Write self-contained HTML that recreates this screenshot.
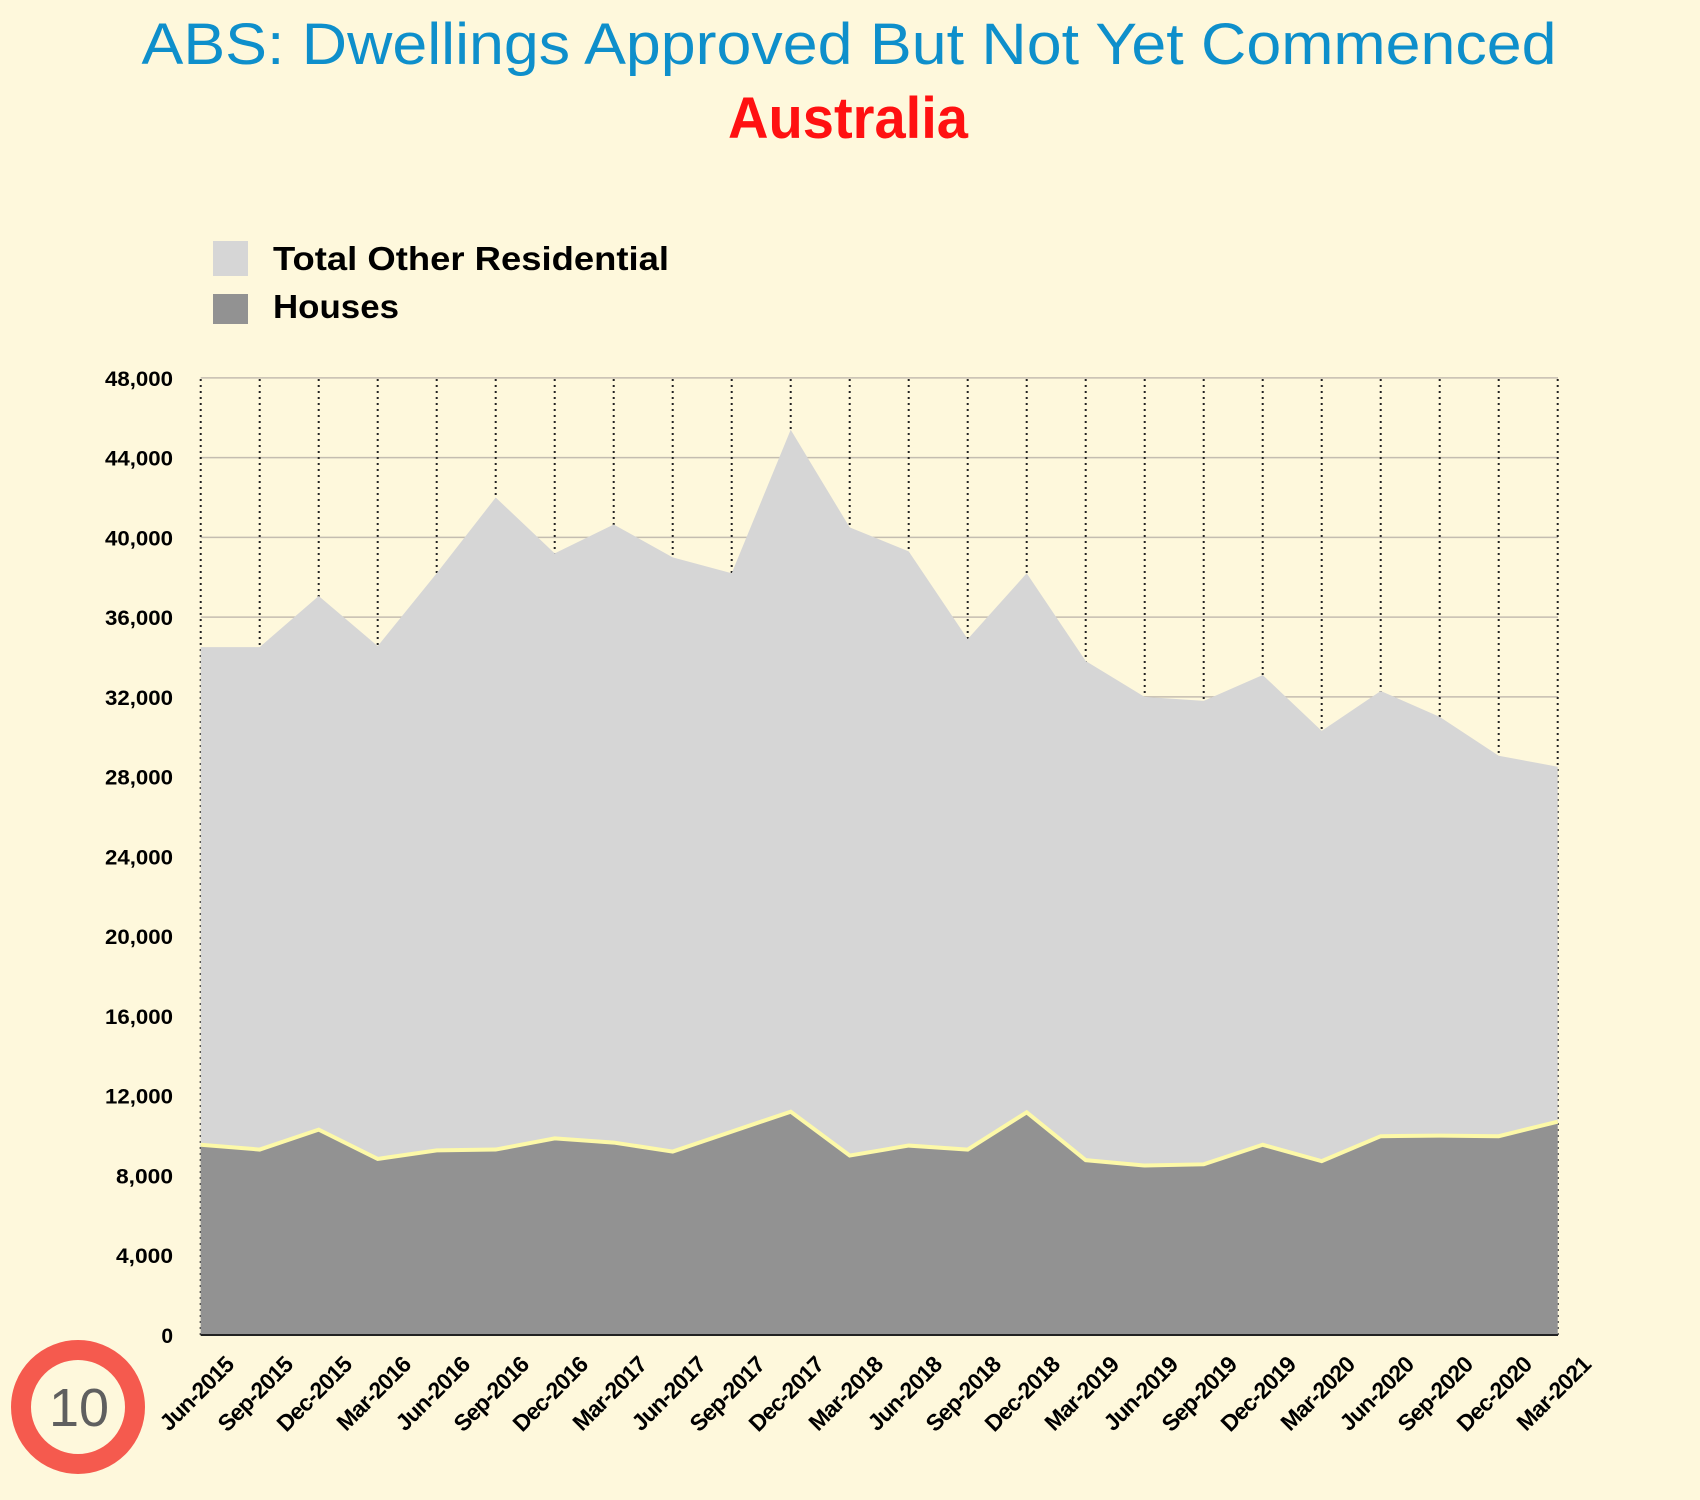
<!DOCTYPE html>
<html><head><meta charset="utf-8"><style>
html,body{margin:0;padding:0;background:#fef8dc;}
#wrap{position:relative;width:1700px;height:1500px;overflow:hidden;}
svg{display:block;position:absolute;left:0;top:0;}
.xl{position:absolute;width:130px;text-align:right;font:bold 23px "Liberation Sans",sans-serif;letter-spacing:-0.8px;color:#000;line-height:24px;transform-origin:100% 0;transform:matrix(0.7071,-0.7071,0.7071,0.7071,0,0);white-space:nowrap;}
</style></head><body>
<div id="wrap">
<svg id="c" width="1700" height="1500" xmlns="http://www.w3.org/2000/svg">
<rect width="1700" height="1500" fill="#fef8dc"/>
<text x="849" y="64" text-anchor="middle" font-family="Liberation Sans, sans-serif" font-size="58" fill="#0e8fcb" textLength="1415" lengthAdjust="spacingAndGlyphs">ABS: Dwellings Approved But Not Yet Commenced</text>
<text x="848" y="138" text-anchor="middle" font-family="Liberation Sans, sans-serif" font-weight="bold" font-size="58" fill="#ff1111" textLength="240" lengthAdjust="spacingAndGlyphs">Australia</text>
<rect x="213" y="241" width="35" height="35" fill="#d6d6d6"/>
<rect x="213" y="294" width="35" height="30" fill="#929292"/>
<text x="273" y="270" font-family="Liberation Sans, sans-serif" font-weight="bold" font-size="33" fill="#000" textLength="396" lengthAdjust="spacingAndGlyphs">Total Other Residential</text>
<text x="273" y="318" font-family="Liberation Sans, sans-serif" font-weight="bold" font-size="33" fill="#000" textLength="126" lengthAdjust="spacingAndGlyphs">Houses</text>
<g id="g"></g>
<circle cx="78" cy="1407" r="57" fill="none" stroke="#f55a4e" stroke-width="20"/>
<text x="79" y="1426" text-anchor="middle" font-family="Liberation Sans, sans-serif" font-size="54" fill="#5f5f5f">10</text>
</svg>
<div class="xl" style="left:90.7px;top:1352px">Jun-2015</div>
<div class="xl" style="left:149.7px;top:1352px">Sep-2015</div>
<div class="xl" style="left:208.7px;top:1352px">Dec-2015</div>
<div class="xl" style="left:267.7px;top:1352px">Mar-2016</div>
<div class="xl" style="left:326.7px;top:1352px">Jun-2016</div>
<div class="xl" style="left:385.7px;top:1352px">Sep-2016</div>
<div class="xl" style="left:444.7px;top:1352px">Dec-2016</div>
<div class="xl" style="left:503.7px;top:1352px">Mar-2017</div>
<div class="xl" style="left:562.7px;top:1352px">Jun-2017</div>
<div class="xl" style="left:621.7px;top:1352px">Sep-2017</div>
<div class="xl" style="left:680.7px;top:1352px">Dec-2017</div>
<div class="xl" style="left:739.7px;top:1352px">Mar-2018</div>
<div class="xl" style="left:798.7px;top:1352px">Jun-2018</div>
<div class="xl" style="left:857.7px;top:1352px">Sep-2018</div>
<div class="xl" style="left:916.7px;top:1352px">Dec-2018</div>
<div class="xl" style="left:975.7px;top:1352px">Mar-2019</div>
<div class="xl" style="left:1034.7px;top:1352px">Jun-2019</div>
<div class="xl" style="left:1093.7px;top:1352px">Sep-2019</div>
<div class="xl" style="left:1152.7px;top:1352px">Dec-2019</div>
<div class="xl" style="left:1211.7px;top:1352px">Mar-2020</div>
<div class="xl" style="left:1270.7px;top:1352px">Jun-2020</div>
<div class="xl" style="left:1329.7px;top:1352px">Sep-2020</div>
<div class="xl" style="left:1388.7px;top:1352px">Dec-2020</div>
<div class="xl" style="left:1447.7px;top:1352px">Mar-2021</div>
</div>
<script>
var tot=[34.5,34.5,37.06,34.55,38.2,42.0,39.2,40.65,39.0,38.2,45.4,40.5,39.3,34.9,38.2,33.8,32.0,31.8,33.1,30.3,32.3,31.0,29.05,28.5];
var hou=[9.54,9.3,10.3,8.83,9.26,9.3,9.86,9.65,9.2,10.2,11.2,9.0,9.5,9.3,11.17,8.77,8.5,8.56,9.54,8.72,9.97,10.0,9.97,10.7];
function X(i){return 200.7+59.0*i;}function Y(v){return 1335-v*19.94;}
var s='';
for(var k=0;k<=12;k++){var y=Y(k*4);s+='<line x1="200.7" x2="1558" y1="'+y+'" y2="'+y+'" stroke="#c4bdb0" stroke-width="1.5"/>';
var t=(k==0?'0':(k*4)+',000');var tl=t.length==6?' textLength="68" lengthAdjust="spacingAndGlyphs"':(t.length==5?' textLength="57" lengthAdjust="spacingAndGlyphs"':'');
s+='<text x="173" y="'+(y+8)+'" text-anchor="end" font-family="Liberation Sans, sans-serif" font-weight="bold" font-size="21" fill="#000"'+tl+'>'+t+'</text>';}
for(var i=0;i<24;i++){s+='<line x1="'+X(i)+'" x2="'+X(i)+'" y1="379" y2="1335" stroke="#222" stroke-width="2" stroke-dasharray="2,4"/>';}
var p='M'+X(0)+','+Y(0);for(var i=0;i<24;i++)p+=' L'+X(i)+','+Y(tot[i]);p+=' L'+X(23)+','+Y(0)+'Z';
s+='<path d="'+p+'" fill="#d6d6d6"/>';
p='M'+X(0)+','+Y(0);var l='';for(var i=0;i<24;i++){p+=' L'+X(i)+','+Y(hou[i]);l+=(i?' L':'M')+X(i)+','+Y(hou[i]);}p+=' L'+X(23)+','+Y(0)+'Z';
s+='<path d="'+p+'" fill="#929292"/>';
s+='<path d="'+l+'" fill="none" stroke="#fdf9a8" stroke-width="4"/>';
s+='<line x1="200.7" x2="1558" y1="1335" y2="1335" stroke="#222" stroke-width="2"/>';
document.getElementById('g').innerHTML=s;
</script>
</body></html>
